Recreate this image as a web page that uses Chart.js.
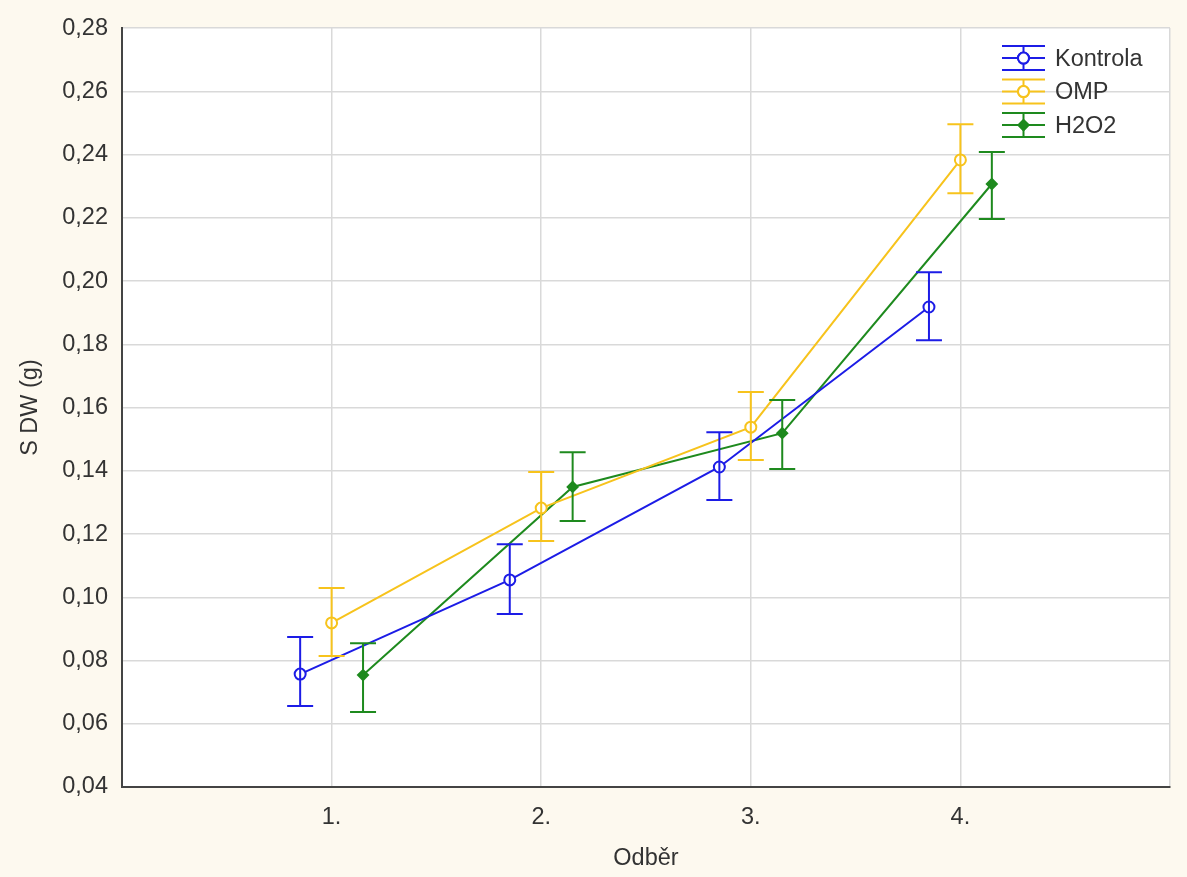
<!DOCTYPE html>
<html>
<head>
<meta charset="utf-8">
<script src="https://cdn.jsdelivr.net/npm/chart.js@4.4.1/dist/chart.umd.min.js"></script>
<style>
  html, body { margin: 0; padding: 0; background: #fdf9ef; }
  #wrap { width: 1187px; height: 877px; }
</style>
</head>
<body>
<div id="wrap"><canvas id="chart" width="1187" height="877"></canvas></div>
<script>
// Odběr (sampling) categories
const categories = ["1.", "2.", "3.", "4."];
const seriesNames = ["Kontrola", "OMP", "H2O2"];

// means
const kontrola = [0.0757, 0.1055, 0.1412, 0.1918];
const omp      = [0.0919, 0.1282, 0.1538, 0.2383];
const h2o2     = [0.0754, 0.1349, 0.1519, 0.2307];

// error bar ends
const kontrolaHi = [0.0874, 0.1168, 0.1522, 0.2028];
const kontrolaLo = [0.0656, 0.0947, 0.1308, 0.1813];
const ompHi      = [0.1029, 0.1396, 0.1649, 0.2496];
const ompLo      = [0.0814, 0.1178, 0.1434, 0.2278];
const h2o2Hi     = [0.0855, 0.1459, 0.1624, 0.2408];
const h2o2Lo     = [0.0637, 0.1241, 0.1406, 0.2196];

const yTicks = [0.04, 0.06, 0.08, 0.10, 0.12, 0.14, 0.16, 0.18, 0.20, 0.22, 0.24, 0.26, 0.28];

const colors = ['#1c1ce6', '#f7c31c', '#1e8a1e'];
const shift = [-0.15, 0, 0.15];
const FONT = '"Liberation Sans", Arial, sans-serif';
const FS = 23.5;
const TXT = '#333333';

function pts(vals, k) {
  return vals.map((v, i) => ({ x: i + 1 + shift[k], y: v }));
}

const means = [kontrola, omp, h2o2];
const his = [kontrolaHi, ompHi, h2o2Hi];
const los = [kontrolaLo, ompLo, h2o2Lo];
const styles = ['circle', 'circle', 'rectRot'];

const datasets = seriesNames.map((name, k) => ({
  label: name,
  data: pts(means[k], k),
  hi: his[k],
  lo: los[k],
  borderColor: colors[k],
  backgroundColor: colors[k],
  borderWidth: 2,
  pointStyle: styles[k],
  pointRadius: k == 2 ? 5 : 5.5,
  pointBorderWidth: 2,
  pointBackgroundColor: k == 2 ? colors[k] : '#ffffff',
  pointBorderColor: colors[k],
  showLine: true,
  tension: 0
}));

const bgPlugin = {
  id: 'bg',
  beforeDraw(chart) {
    const { ctx, chartArea: a } = chart;
    ctx.save();
    ctx.fillStyle = '#fdf9ef';
    ctx.fillRect(0, 0, chart.width, chart.height);
    ctx.fillStyle = '#ffffff';
    ctx.fillRect(a.left, a.top, a.right - a.left, a.bottom - a.top);
    ctx.restore();
  }
};

const errPlugin = {
  id: 'errbars',
  afterDatasetsDraw(chart) {
    const { ctx, scales: { x, y } } = chart;
    ctx.save();
    chart.data.datasets.forEach(ds => {
      ctx.strokeStyle = ds.borderColor;
      ctx.lineWidth = 2;
      ds.data.forEach((p, i) => {
        const px = x.getPixelForValue(p.x);
        const yh = y.getPixelForValue(ds.hi[i]);
        const yl = y.getPixelForValue(ds.lo[i]);
        ctx.beginPath();
        ctx.moveTo(px, yh); ctx.lineTo(px, yl);
        ctx.moveTo(px - 13, yh); ctx.lineTo(px + 13, yh);
        ctx.moveTo(px - 13, yl); ctx.lineTo(px + 13, yl);
        ctx.stroke();
      });
    });
    ctx.restore();
  }
};

// legend drawn inside plot, top right
const legendPlugin = {
  id: 'inlegend',
  afterDraw(chart) {
    const { ctx, chartArea: a } = chart;
    ctx.save();
    ctx.font = FS + 'px ' + FONT;
    ctx.textBaseline = 'middle';
    chart.data.datasets.forEach((ds, k) => {
      const cy = a.top + 30 + k * 33.5;
      const x0 = a.left + 880, x1 = a.left + 923, cx = (x0 + x1) / 2;
      ctx.strokeStyle = ds.borderColor;
      ctx.lineWidth = 2;
      ctx.beginPath();
      ctx.moveTo(x0, cy - 12); ctx.lineTo(x1, cy - 12);
      ctx.moveTo(x0, cy); ctx.lineTo(x1, cy);
      ctx.moveTo(x0, cy + 12); ctx.lineTo(x1, cy + 12);
      ctx.moveTo(cx, cy - 12); ctx.lineTo(cx, cy + 12);
      ctx.stroke();
      Chart.helpers.drawPoint(ctx, {
        pointStyle: ds.pointStyle, radius: ds.pointRadius, borderWidth: 2, rotation: 0
      }, cx, cy);
      ctx.fillStyle = ds.pointBackgroundColor;
      ctx.fill();
      ctx.stroke();
      ctx.fillStyle = TXT;
      ctx.fillText(ds.label, x1 + 10, cy + 1);
    });
    ctx.restore();
  }
};

new Chart(document.getElementById('chart'), {
  type: 'scatter',
  data: { datasets },
  plugins: [bgPlugin, errPlugin, legendPlugin],
  options: {
    responsive: false,
    animation: false,
    layout: { padding: { left: 0, top: 28, right: 17, bottom: 0 } },
    plugins: { legend: { display: false }, tooltip: { enabled: false } },
    scales: {
      x: {
        type: 'linear',
        min: 0, max: 5,
        afterFit(s) { s.height = 90; },
        afterBuildTicks(s) { s.ticks = [0, 1, 2, 3, 4, 5].map(v => ({ value: v })); },
        ticks: {
          font: { family: FONT, size: FS },
          color: TXT,
          padding: 16,
          callback: v => categories[v - 1] || ''
        },
        grid: { color: '#d9d9d9', lineWidth: 1.5, drawTicks: false },
        border: { color: '#444444', width: 2 },
        title: {
          display: true, text: 'Odběr',
          font: { family: FONT, size: FS }, color: TXT,
          padding: { top: 12 }
        }
      },
      y: {
        min: 0.04, max: 0.28,
        afterFit(s) { s.width = 122; },
        afterBuildTicks(s) { s.ticks = yTicks.map(v => ({ value: v })); },
        ticks: {
          font: { family: FONT, size: FS },
          color: TXT,
          padding: 14,
          callback: v => v.toFixed(2).replace('.', ',')
        },
        grid: { color: '#d9d9d9', lineWidth: 1.5, drawTicks: false },
        border: { color: '#444444', width: 2 },
        title: {
          display: true, text: 'S DW (g)',
          font: { family: FONT, size: FS }, color: TXT,
          padding: { top: 16, bottom: 0 }
        }
      }
    }
  }
});
</script>
</body>
</html>
